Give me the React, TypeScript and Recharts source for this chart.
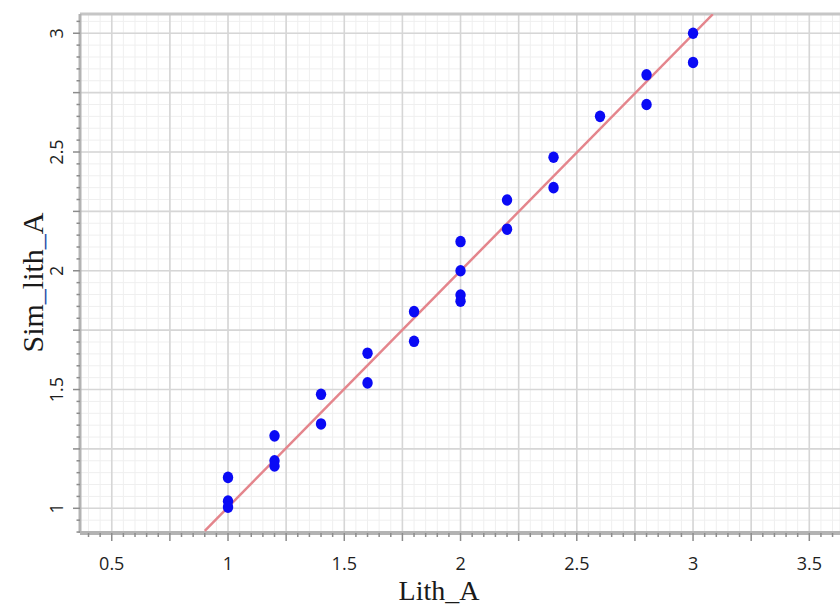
import React from 'react';
import { ScatterChart, Scatter, XAxis, YAxis, CartesianGrid, ReferenceLine, Label } from 'recharts';

// Observed values (Lith_A vs Sim_lith_A)
const LITH_A = [1, 1, 1, 1.2, 1.2, 1.2, 1.4, 1.4, 1.6, 1.6, 1.8, 1.8, 2, 2, 2, 2, 2.2, 2.2, 2.4, 2.4, 2.6, 2.8, 2.8, 3, 3];
const SIM_LITH_A = [1.13, 1.03, 1.005, 1.305, 1.2, 1.178, 1.48, 1.355, 1.653, 1.528, 1.828, 1.703, 2.123, 2.0, 1.898, 1.872, 2.298, 2.175, 2.478, 2.35, 2.65, 2.825, 2.7, 3.0, 2.877];

// Fit line end points
const FIT_X = [0.9, 3.085];
const FIT_Y = [0.905, 3.08];

// Axes
const X_DOMAIN: [number, number] = [0.3634, 3.632];
const Y_DOMAIN: [number, number] = [0.896, 3.081];
const X_LABEL_TICKS = [0.5, 1, 1.5, 2, 2.5, 3, 3.5];
const Y_LABEL_TICKS = [1, 1.5, 2, 2.5, 3];
const X_MAJOR_GRID = [0.5, 0.75, 1, 1.25, 1.5, 1.75, 2, 2.25, 2.5, 2.75, 3, 3.25, 3.5];
const Y_MAJOR_GRID = [1, 1.25, 1.5, 1.75, 2, 2.25, 2.5, 2.75, 3];
const X_MINOR_RANGE = [0.4, 3.6];
const Y_MINOR_RANGE = [0.9, 3.05];
const MINOR_STEP = 0.05;

const steps = (range: number[], step: number) => {
  const out: number[] = [];
  const n = Math.round((range[1] - range[0]) / step);
  for (let i = 0; i <= n; i++) out.push(Math.round((range[0] + i * step) * 100) / 100);
  return out;
};
const X_MINOR_TICKS = steps(X_MINOR_RANGE, MINOR_STEP);
const Y_MINOR_TICKS = steps(Y_MINOR_RANGE, MINOR_STEP);

const has = (list: number[], v: number) => list.some((t) => Math.abs(t - v) < 1e-6);

const points = LITH_A.map((x, i) => ({ x, y: SIM_LITH_A[i] }));
const fitLine = FIT_X.map((x, i) => ({ x, y: FIT_Y[i] }));

const TICK_FONT = '"Open Sans", sans-serif';
const TITLE_FONT = '"Liberation Serif", "Times New Roman", serif';

const XTick = (props: any) => {
  const { x, y, payload } = props;
  const v = payload.value;
  const major = has(X_MAJOR_GRID, v);
  return (
    <g>
      <line x1={x} x2={x} y1={y} y2={y + (major ? 8 : 4)} stroke="#8c8c8c" strokeWidth={1.5} />
      {has(X_LABEL_TICKS, v) && (
        <text x={x} y={y + 37} textAnchor="middle" fontFamily={TICK_FONT} fontSize={18} fill="#1e1e1e">
          {String(v)}
        </text>
      )}
    </g>
  );
};

const YTick = (props: any) => {
  const { x, y, payload } = props;
  const v = payload.value;
  const major = has(Y_MAJOR_GRID, v);
  return (
    <g>
      <line x1={x - (major ? 7 : 3.5)} x2={x} y1={y} y2={y} stroke="#8c8c8c" strokeWidth={1.5} />
      {has(Y_LABEL_TICKS, v) && (
        <text
          x={0}
          y={0}
          transform={`translate(${x - 17}, ${y}) rotate(-90)`}
          textAnchor="middle"
          fontFamily={TICK_FONT}
          fontSize={18}
          fill="#1e1e1e"
        >
          {String(v)}
        </text>
      )}
    </g>
  );
};

const XTitle = (props: any) => {
  const vb = props.viewBox || { x: 80, y: 533, width: 760, height: 73 };
  return (
    <text x={vb.x + vb.width / 2 - 21} y={vb.y + 67} textAnchor="middle" fontFamily={TITLE_FONT} fontSize={28} fill="#1a1a1a">
      Lith_A
    </text>
  );
};

const YTitle = (props: any) => {
  const vb = props.viewBox || { x: 0, y: 14, width: 80, height: 519 };
  const cx = vb.x + 43;
  const cy = vb.y + vb.height / 2 + 9;
  return (
    <text x={0} y={0} transform={`translate(${cx}, ${cy}) rotate(-90)`} textAnchor="middle" fontFamily={TITLE_FONT} fontSize={30} fill="#1a1a1a">
      Sim<tspan fill="#2a4fa8">_</tspan>lith<tspan fill="#2a4fa8">_</tspan>A
    </text>
  );
};

const Dot = (props: any) => {
  const { cx, cy } = props;
  if (cx == null || cy == null) return null;
  return <ellipse cx={cx} cy={cy} rx={5.2} ry={5.8} fill="#0a0af5" />;
};

const NoShape = () => null;

export default function App() {
  return (
    <div style={{ position: 'absolute', left: 0, top: 0, width: 840, height: 606, background: '#ffffff' }}>
      <ScatterChart width={840} height={606} margin={{ top: 14, right: 0, bottom: 0, left: 0 }}>
        <CartesianGrid stroke="#efefef" strokeWidth={1} />
        {X_MAJOR_GRID.map((v) => (
          <ReferenceLine key={'vx' + v} x={v} stroke="#d6d6d6" strokeWidth={1.6} />
        ))}
        {Y_MAJOR_GRID.map((v) => (
          <ReferenceLine key={'hy' + v} y={v} stroke="#d6d6d6" strokeWidth={1.6} />
        ))}
        <ReferenceLine y={Y_DOMAIN[1]} stroke="#c6c6c6" strokeWidth={3} />
        <XAxis
          type="number"
          dataKey="x"
          domain={X_DOMAIN}
          allowDataOverflow
          ticks={X_MINOR_TICKS}
          interval={0}
          tick={<XTick />}
          tickLine={false}
          tickSize={0}
          tickMargin={0}
          axisLine={{ stroke: '#b3b3b3', strokeWidth: 4 }}
          height={73}
        >
          <Label content={<XTitle />} />
        </XAxis>
        <YAxis
          type="number"
          dataKey="y"
          domain={Y_DOMAIN}
          allowDataOverflow
          ticks={Y_MINOR_TICKS}
          interval={0}
          tick={<YTick />}
          tickLine={false}
          tickSize={0}
          tickMargin={0}
          axisLine={{ stroke: '#b3b3b3', strokeWidth: 3 }}
          width={80}
        >
          <Label content={<YTitle />} />
        </YAxis>
        <Scatter
          data={fitLine}
          line={{ stroke: '#e4858c', strokeWidth: 2.5 }}
          shape={<NoShape />}
          isAnimationActive={false}
        />
        <Scatter data={points} shape={<Dot />} isAnimationActive={false} />
      </ScatterChart>
    </div>
  );
}
